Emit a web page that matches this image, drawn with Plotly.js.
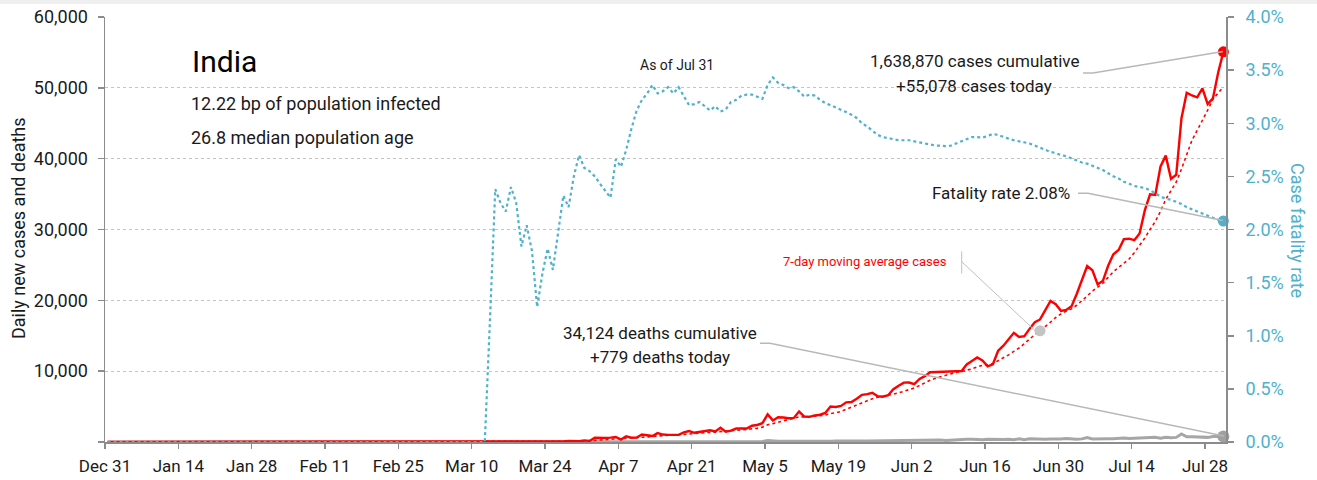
<!DOCTYPE html>
<html>
<head>
<meta charset="utf-8">
<script src="https://cdn.plot.ly/plotly-3.0.1.min.js"></script>
<style>
  html, body { margin: 0; padding: 0; background: #fff; }
  #chart { width: 1317px; height: 480px; }
</style>
</head>
<body>
<div id="chart"></div>
<script>
// ---------------- DATA ----------------
const startDate = '2019-12-31';

// Daily new cases, Dec 31 2019 .. Jul 31 2020
const cases = [
  0,
  // Jan
  0,0,0,0,0,0,0,0,0,0, 0,0,0,0,0,0,0,0,0,0, 0,0,0,0,0,0,0,0,0,1, 0,
  // Feb
  0,1,1,0,0,0,0,0,0,0, 0,0,0,0,0,0,0,0,0,0, 0,0,0,0,0,0,0,0,0,
  // Mar
  0,0,2,1,22,2,1,3,5,9, 15,8,10,10,11,10,14,23,22,28, 49,66,84,100,77,88,87,149,146,106, 227,
  // Apr
  150,600,550,560,620,700,350,800,600,620, 1050,900,850,1250,1050,1000,1050,1000,1350,1550, 1300,1400,1450,1650,1500,2000,1450,1600,1900,1950,
  // May
  1900,2300,2400,2650,3900,3050,3500,3450,3350,3400, 4300,3600,3550,3750,3850,4100,5000,4950,5100,5600, 5650,6100,6650,6750,6950,6450,6400,6600,7450,7950, 8380,
  // Jun
  8390,8170,8900,9300,9850,9890,9970,9980,9990,9985, 10000,10950,11450,11930,11500,10670,10970,12880,13590,14520, 15410,14820,14930,15970,16920,17300,18550,19910,19460,18520,
  // Jul
  18650,19150,20900,22770,24850,24250,22250,22750,24880,26510, 27110,28640,28700,28500,29430,32700,34960,34880,38900,40430, 37150,37720,45720,49310,48920,48660,49930,47700,48510,52120, 55078
];

// 7-day moving average of cases
const avg7 = [
  0,
  0,0,0,0,0,0,0,0,0,0, 0,0,0,0,0,0,0,0,0,0, 0,0,0,0,0,0,0,0,0,0, 0,
  0,0,0,0,0,0,0,0,0,0, 0,0,0,0,0,0,0,0,0,0, 0,0,0,0,0,0,0,0,0,
  0,0,0.3,0.4,3.6,3.9,4,4.4,5.1,6.1, 8.1,6.1,7.3,8.6,9.7,10.4,11.1,12.3,14.3,16.9, 22.4,30.3,40.9,53.1,60.9,70.3,78.7,93,104.4,107.6, 125.7,
  136,209,275,334,402,487,504,597,597,607, 677,717,739,867,903,960,1021,1014,1079,1179, 1186,1236,1300,1386,1457,1550,1536,1579,1650,1721,
  1757,1871,1929,2100,2429,2593,2814,3036,3186,3329, 3564,3521,3593,3629,3686,3793,4021,4114,4329,4621, 4893,5214,5579,5829,6114,6307,6421,6557,6750,6936, 7169,
  7374,7620,7977,8363,8706,8983,9210,9437,9697,9852, 9952,10109,10332,10612,10829,10926,11067,11479,11856,12294, 12791,13266,13874,14589,15166,15696,16271,16914,17577,18090,
  18473,18791,19306,19909,20614,21299,21831,22417,23236,24037, 24657,25199,25834,26727,27681,28799,30006,31116,32581,34257, 35493,36677,38537,40587,42593,43987,45344,46851,48393,49307, 50131
];

// Daily deaths
const deaths = [
  0,
  0,0,0,0,0,0,0,0,0,0, 0,0,0,0,0,0,0,0,0,0, 0,0,0,0,0,0,0,0,0,0, 0,
  0,0,0,0,0,0,0,0,0,0, 0,0,0,0,0,0,0,0,0,0, 0,0,0,0,0,0,0,0,0,
  0,0,0,0,0,0,0,0,0,0, 0,0,1,0,1,0,1,0,1,1, 0,2,1,3,1,2,4,3,6,2, 3,
  12,9,12,10,15,15,29,10,17,40, 29,34,35,26,36,38,23,35,33,38, 47,40,34,37,57,49,56,62,73,71,
  75,83,68,83,194,126,89,104,95,111, 97,87,134,103,100,120,120,157,134,140, 132,148,137,147,154,146,170,175,175,265, 193,
  230,204,217,260,273,294,287,206,266,279, 357,396,386,311,325,380,341,334,336,375, 306,445,312,465,418,407,384,410,380,417,
  507,434,379,442,613,425,467,482,475,475, 519,551,500,553,582,606,687,671,543,681, 587,648,1129,740,757,705,654,654,775,783, 779
];

// Case fatality rate, percent
const fatality = [
  0,
  0,0,0,0,0,0,0,0,0,0, 0,0,0,0,0,0,0,0,0,0, 0,0,0,0,0,0,0,0,0,0, 0,
  0,0,0,0,0,0,0,0,0,0, 0,0,0,0,0,0,0,0,0,0, 0,0,0,0,0,0,0,0,0,
  0,0,0,0,0,0,0,0,0,0, 0,0,1.16,2.38,2.25,2.17,2.40,2.25,1.84,2.04, 1.80,1.27,1.585,1.82,1.62,1.99,2.32,2.21,2.50,2.70, 2.58,
  2.55,2.50,2.43,2.36,2.30,2.66,2.59,2.75,2.95,3.12, 3.22,3.28,3.36,3.28,3.30,3.34,3.28,3.34,3.25,3.17, 3.18,3.20,3.16,3.12,3.16,3.11,3.13,3.20,3.22,3.26,
  3.27,3.27,3.25,3.23,3.36,3.43,3.38,3.36,3.33,3.34, 3.30,3.25,3.27,3.26,3.22,3.19,3.17,3.15,3.13,3.105, 3.08,3.05,3.00,2.97,2.93,2.89,2.87,2.86,2.85,2.84, 2.84,
  2.84,2.83,2.82,2.81,2.80,2.79,2.79,2.785,2.79,2.81, 2.83,2.85,2.87,2.87,2.865,2.88,2.90,2.89,2.87,2.855, 2.84,2.83,2.82,2.81,2.79,2.77,2.75,2.73,2.72,2.70,
  2.69,2.67,2.65,2.63,2.62,2.60,2.58,2.56,2.53,2.50, 2.48,2.45,2.43,2.41,2.40,2.39,2.37,2.34,2.31,2.29, 2.28,2.26,2.24,2.21,2.19,2.17,2.15,2.13,2.11,2.09, 2.08
];

const leftTickVals = [0, 10000, 20000, 30000, 40000, 50000, 60000];
const leftTickText = ['', '10,000', '20,000', '30,000', '40,000', '50,000', '60,000'];
const rightTickVals = [0, 0.5, 1, 1.5, 2, 2.5, 3, 3.5, 4];
const rightTickText = ['0.0%', '0.5%', '1.0%', '1.5%', '2.0%', '2.5%', '3.0%', '3.5%', '4.0%'];

const avgMarkDate = '2020-06-26';

const countryName = 'India';
const infoLines = ['12.22 bp of population infected', '26.8 median population age'];
const asOfText = 'As of Jul 31';
const casesLabel = ['1,638,870 cases cumulative', '+55,078 cases today'];
const deathsLabel = ['34,124 deaths cumulative', '+779 deaths today'];
const fatalityLabel = 'Fatality rate 2.08%';
const avgLabel = '7-day moving average cases';
const leftTitle = 'Daily new cases and deaths';
const rightTitle = 'Case fatality rate';

// ---------------- BUILD ----------------
const dates = [];
const t0 = Date.parse(startDate + 'T00:00:00Z');
for (let i = 0; i < cases.length; i++) {
  dates.push(new Date(t0 + i * 86400000).toISOString().slice(0, 10));
}
const last = dates.length - 1;
const avgIdx = dates.indexOf(avgMarkDate);

const FONT = "Roboto, 'Liberation Sans', sans-serif";
const RED = '#ff0000';
const TEAL = '#4fb1cc';
const GRAY = '#a6a6a6';
const TXT = '#1a1a1a';
const AX = '#8c8c8c';

const W = 1317, H = 480;
const mL = 105, mR = 91, mT = 17, mB = 38;
const PL = mL, PR = W - mR, PT = mT, PB = H - mB;
const px = x => (x - PL) / (PR - PL);
const py = y => (PB - y) / (PB - PT);

const per = { xperiod: 86400000, xperiodalignment: 'middle' };

const traces = [
  Object.assign({ x: dates, y: deaths, type: 'scatter', mode: 'lines',
    line: { color: GRAY, width: 3 }, hoverinfo: 'skip' }, per),
  Object.assign({ x: dates, y: fatality, yaxis: 'y2', type: 'scatter', mode: 'lines',
    line: { color: TEAL, width: 2.2, dash: 'dot' }, hoverinfo: 'skip' }, per),
  Object.assign({ x: dates, y: avg7, type: 'scatter', mode: 'lines',
    line: { color: RED, width: 1.6, dash: 'dot' }, hoverinfo: 'skip' }, per),
  Object.assign({ x: dates, y: cases, type: 'scatter', mode: 'lines',
    line: { color: RED, width: 2.4 }, hoverinfo: 'skip' }, per),
  Object.assign({ x: [dates[avgIdx]], y: [avg7[avgIdx]], type: 'scatter', mode: 'markers',
    marker: { color: '#c4c4c4', size: 11 }, cliponaxis: false }, per),
  Object.assign({ x: [dates[last]], y: [deaths[last]], type: 'scatter', mode: 'markers',
    marker: { color: '#a0a0a0', size: 12 }, cliponaxis: false }, per),
  Object.assign({ x: [dates[last]], y: [fatality[last]], yaxis: 'y2', type: 'scatter', mode: 'markers',
    marker: { color: TEAL, size: 11 }, cliponaxis: false }, per),
  Object.assign({ x: [dates[last]], y: [cases[last]], type: 'scatter', mode: 'markers',
    marker: { color: RED, size: 11 }, cliponaxis: false }, per)
];

function ann(text, x, y, opts) {
  return Object.assign({
    text: text, xref: 'paper', yref: 'paper', x: px(x), y: py(y),
    xanchor: 'center', yanchor: 'middle', showarrow: false,
    font: { family: FONT, size: 17, color: TXT }
  }, opts || {});
}
function pathShape(pts, width, color) {
  const d = pts.map((p, i) => (i ? 'L' : 'M') + px(p[0]).toFixed(5) + ',' + py(p[1]).toFixed(5)).join(' ');
  return { type: 'path', xref: 'paper', yref: 'paper', path: d,
    line: { color: color || '#b8b8b8', width: width || 1.5 }, layer: 'above' };
}

const annotations = [
  ann(countryName, 190, 62, { xanchor: 'left', font: { family: FONT, size: 30, color: '#000' } }),
  ann(infoLines[0], 189, 103, { xanchor: 'left', font: { family: FONT, size: 18, color: TXT } }),
  ann(infoLines[1], 189, 137, { xanchor: 'left', font: { family: FONT, size: 18, color: TXT } }),
  ann(asOfText, 677, 65, { font: { family: FONT, size: 14, color: TXT } }),
  ann(casesLabel[0], 974, 61),
  ann(casesLabel[1], 974, 86),
  ann(fatalityLabel, 1072, 193, { xanchor: 'right' }),
  ann(avgLabel, 865, 261, { font: { family: FONT, size: 13, color: RED } }),
  ann(deathsLabel[0], 660, 333),
  ann(deathsLabel[1], 660, 357),
  ann(leftTitle, 18, 228, { textangle: -90, font: { family: FONT, size: 18, color: TXT } }),
  ann(rightTitle, 1298, 230, { textangle: 90, font: { family: FONT, size: 18, color: TEAL } })
];

const shapes = [
  { type: 'rect', xref: 'paper', yref: 'paper', x0: px(0), x1: px(W), y0: py(0), y1: py(4),
    fillcolor: '#efefef', line: { width: 0 }, layer: 'below' },
  pathShape([[1083, 73], [1093, 73], [1223, 51.5]]),
  pathShape([[1078, 193.3], [1088, 193.3], [1223, 220.5]]),
  pathShape([[961.7, 251.5], [961.7, 273.5]], 1, '#c0c0c0'),
  pathShape([[961.7, 261.7], [1036, 331.5]], 1, '#c0c0c0'),
  pathShape([[760, 343.3], [770, 343.3], [1224, 436]])
];

const layout = {
  width: W, height: H,
  margin: { l: mL, r: mR, t: mT, b: mB, pad: 0 },
  paper_bgcolor: '#ffffff', plot_bgcolor: '#ffffff',
  showlegend: false,
  font: { family: FONT, color: TXT },
  xaxis: {
    type: 'date',
    range: ['2019-12-31', '2020-08-01'],
    tick0: '2019-12-31', dtick: 14 * 86400000,
    tickformat: '%b %-d',
    showgrid: false, zeroline: false,
    showline: true, linecolor: AX, linewidth: 1.5,
    ticks: 'outside', ticklen: 5, tickcolor: AX, tickwidth: 1.5,
    ticklabelstandoff: 3,
    tickfont: { family: FONT, size: 17, color: TXT },
    fixedrange: true
  },
  yaxis: {
    range: [0, 60000],
    tickvals: leftTickVals, ticktext: leftTickText,
    showgrid: true, gridcolor: '#c4c4c4', griddash: 'dot', gridwidth: 1,
    zeroline: false,
    showline: true, linecolor: AX, linewidth: 1.5,
    ticks: 'outside', ticklen: 6, tickcolor: AX, tickwidth: 1.5,
    ticklabelstandoff: 6,
    tickfont: { family: FONT, size: 18, color: TXT },
    fixedrange: true
  },
  yaxis2: {
    overlaying: 'y', side: 'right',
    range: [0, 4],
    tickvals: rightTickVals, ticktext: rightTickText,
    showgrid: false, zeroline: false,
    showline: true, linecolor: AX, linewidth: 2,
    ticks: 'outside', ticklen: 6, tickcolor: AX, tickwidth: 1.5,
    ticklabelstandoff: 8,
    tickfont: { family: FONT, size: 18, color: TEAL },
    fixedrange: true
  },
  annotations: annotations,
  shapes: shapes
};

Plotly.newPlot('chart', traces, layout, { displayModeBar: false, staticPlot: true });
</script>
</body>
</html>
